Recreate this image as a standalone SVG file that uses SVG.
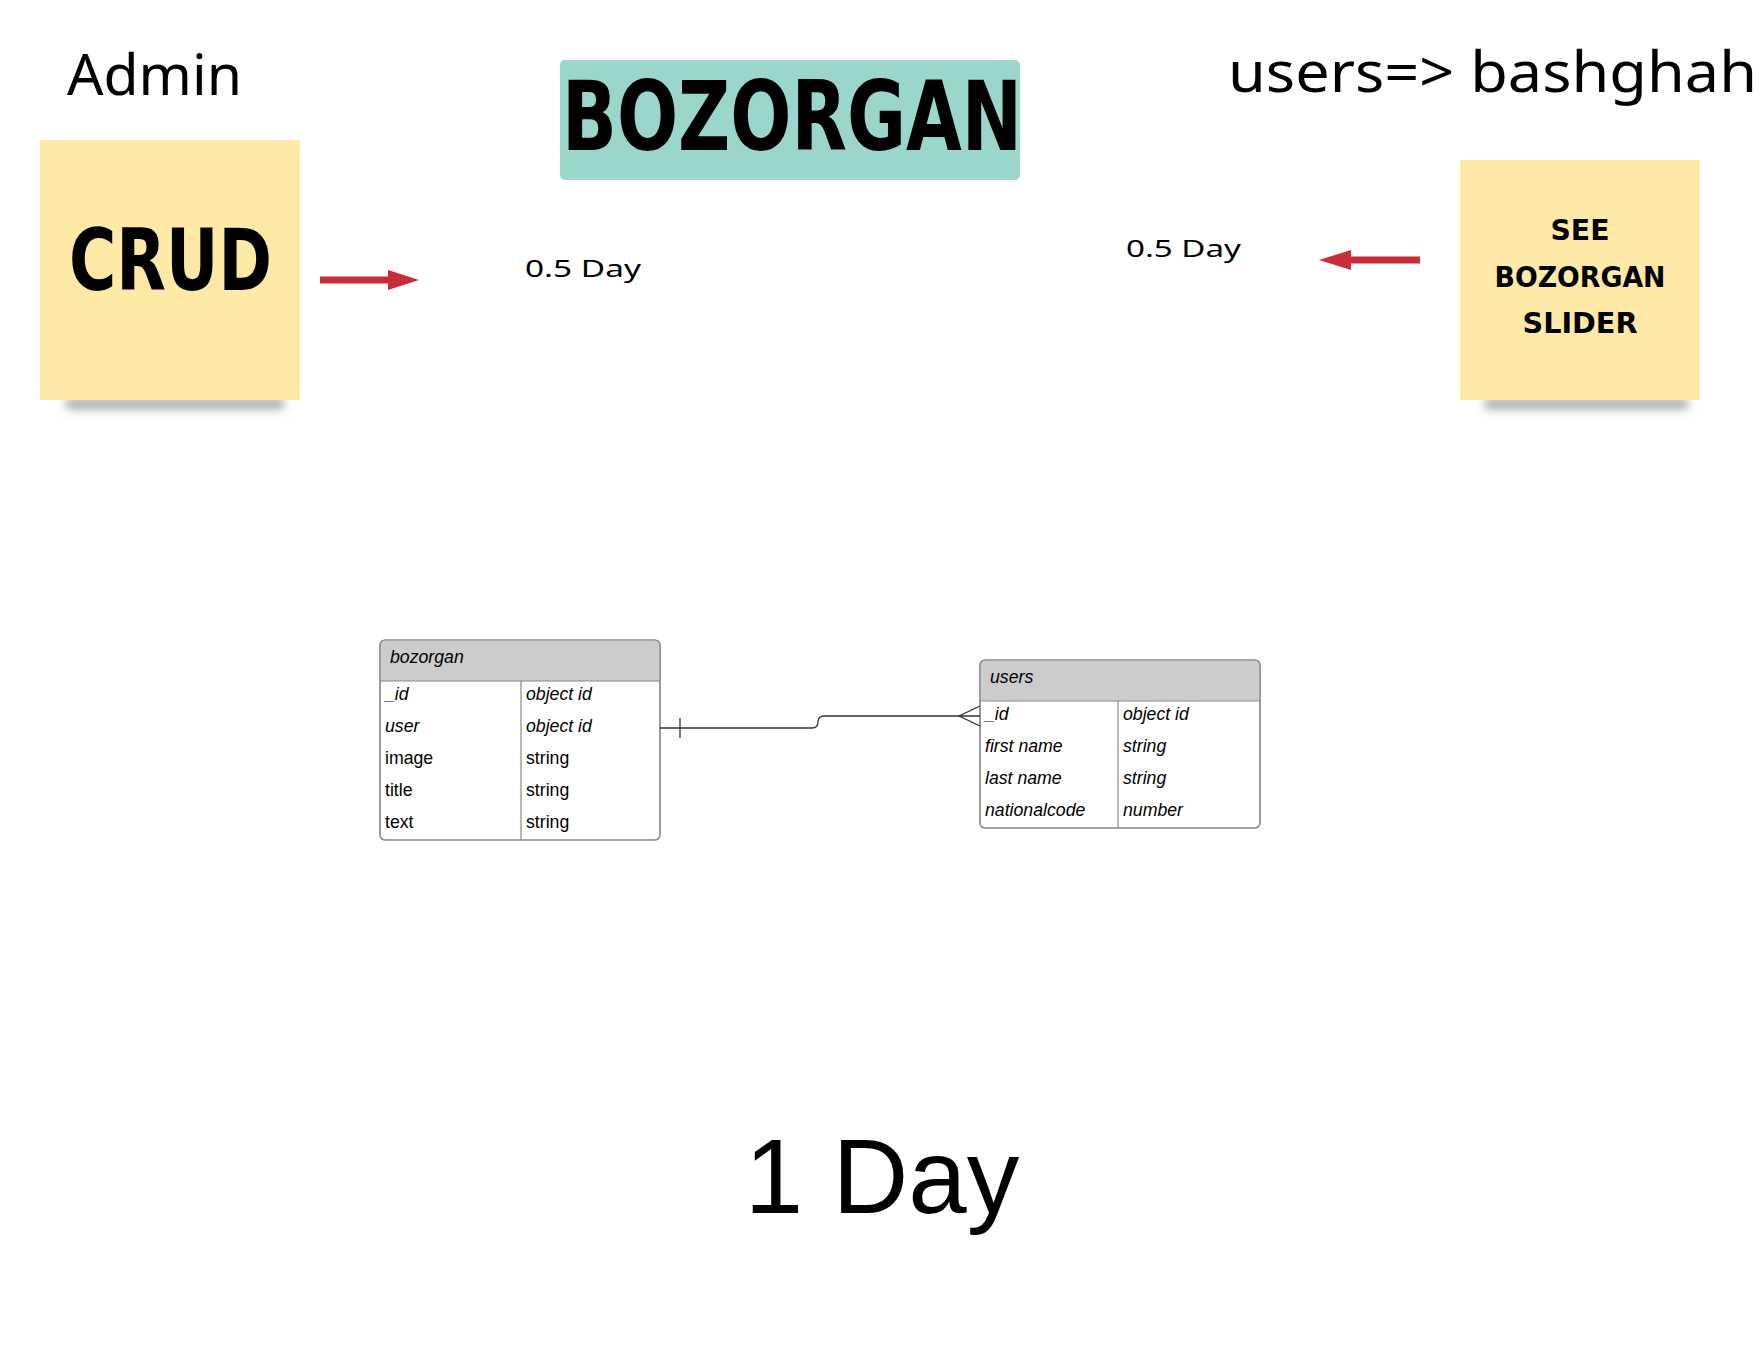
<svg xmlns="http://www.w3.org/2000/svg" width="1760" height="1360" viewBox="0 0 1760 1360">
<defs>
<filter id="shadow" x="-20%" y="-300%" width="140%" height="700%"><feGaussianBlur stdDeviation="5"/></filter>
<style>
.sticky{fill:#ffe9a6}
.shadow{fill:#8f8f8f;opacity:0.8;filter:url(#shadow)}
.title{font-family:"Noto Sans",sans-serif;font-size:56px;fill:#000}
.day{font-family:"Noto Sans",sans-serif;font-size:24px;fill:#000}
.hand{font-family:"DejaVu Sans",sans-serif;font-weight:bold;fill:#000}
.tbl{fill:#fff;stroke:#888;stroke-width:1.2}
.hdr{fill:#cccccc}
.sep{stroke:#888;stroke-width:1.2;fill:none}
.cell{font-family:"Liberation Sans",Arial,sans-serif;font-size:17.7px;fill:#000}
.it{font-style:italic}
.red{stroke:#c92d39;stroke-width:7;fill:none}
.redhead{fill:#c92d39}
.conn{stroke:#333;stroke-width:1.3;fill:none}
</style>
</defs>
<rect width="1760" height="1360" fill="#fff"/>

<g id="admin-label"><text class="title" x="67" y="95" textLength="175" lengthAdjust="spacingAndGlyphs">Admin</text></g>

<g id="title-bozorgan">
<rect x="560" y="60" width="460" height="120" rx="5" fill="#9bd6cc"/>
<text class="hand" x="562" y="150" font-size="96" textLength="460" lengthAdjust="spacingAndGlyphs">BOZORGAN</text>
</g>

<g id="users-label"><text class="title" x="1228" y="92" textLength="529" lengthAdjust="spacingAndGlyphs">users=&gt; bashghah</text></g>

<g id="sticky-crud">
<rect class="shadow" x="65" y="399" width="220" height="10" rx="5"/>
<rect class="sticky" x="40" y="140" width="260" height="260"/>
<text class="hand" x="69" y="290" font-size="86" textLength="203" lengthAdjust="spacingAndGlyphs">CRUD</text>
</g>

<g id="sticky-see">
<rect class="shadow" x="1484" y="399" width="205" height="10" rx="5"/>
<rect class="sticky" x="1460" y="160" width="240" height="240"/>
<text class="hand" x="1580" y="240" font-size="29" text-anchor="middle" textLength="59" lengthAdjust="spacingAndGlyphs">SEE</text>
<text class="hand" x="1580" y="287" font-size="29" text-anchor="middle" textLength="171" lengthAdjust="spacingAndGlyphs">BOZORGAN</text>
<text class="hand" x="1580" y="333" font-size="29" text-anchor="middle" textLength="115" lengthAdjust="spacingAndGlyphs">SLIDER</text>
</g>

<g id="day-left"><text class="day" x="525" y="277" textLength="116" lengthAdjust="spacingAndGlyphs">0.5 Day</text></g>
<g id="day-right"><text class="day" x="1126" y="257" textLength="115" lengthAdjust="spacingAndGlyphs">0.5 Day</text></g>

<g id="table-bozorgan">
<rect class="tbl" x="380" y="640" width="280" height="200" rx="5"/>
<path class="hdr" d="M385 640.6 H655 A4.4 4.4 0 0 1 659.4 645 V681 H380.6 V645 A4.4 4.4 0 0 1 385 640.6 Z"/>
<rect x="380" y="640" width="280" height="200" rx="5" fill="none" stroke="#888" stroke-width="1.2"/>
<line class="sep" x1="380" y1="681" x2="660" y2="681"/>
<line class="sep" x1="521" y1="681" x2="521" y2="840"/>
<text class="cell it" x="390" y="663">bozorgan</text>
<text class="cell it" x="385" y="700">_id</text><text class="cell it" x="526" y="700">object id</text>
<text class="cell it" x="385" y="732">user</text><text class="cell it" x="526" y="732">object id</text>
<text class="cell" x="385" y="764">image</text><text class="cell" x="526" y="764">string</text>
<text class="cell" x="385" y="796">title</text><text class="cell" x="526" y="796">string</text>
<text class="cell" x="385" y="828">text</text><text class="cell" x="526" y="828">string</text>
</g>

<g id="table-users">
<rect class="tbl" x="980" y="660" width="280" height="168" rx="5"/>
<path class="hdr" d="M985 660.6 H1255 A4.4 4.4 0 0 1 1259.4 665 V701 H980.6 V665 A4.4 4.4 0 0 1 985 660.6 Z"/>
<rect x="980" y="660" width="280" height="168" rx="5" fill="none" stroke="#888" stroke-width="1.2"/>
<line class="sep" x1="980" y1="701" x2="1260" y2="701"/>
<line class="sep" x1="1118" y1="701" x2="1118" y2="828"/>
<text class="cell it" x="990" y="683">users</text>
<text class="cell it" x="985" y="720">_id</text><text class="cell it" x="1123" y="720">object id</text>
<text class="cell it" x="985" y="752">first name</text><text class="cell it" x="1123" y="752">string</text>
<text class="cell it" x="985" y="784">last name</text><text class="cell it" x="1123" y="784">string</text>
<text class="cell it" x="985" y="816">nationalcode</text><text class="cell it" x="1123" y="816">number</text>
</g>

<g id="one-day"><text x="882" y="1213" text-anchor="middle" font-family="Liberation Sans, Arial, sans-serif" font-size="105" fill="#000">1 Day</text></g>

<g id="connectors">
<line class="red" x1="320" y1="280" x2="392" y2="280"/>
<polygon class="redhead" points="388,270 419,280 388,290"/>
<line class="red" x1="1347" y1="260" x2="1420" y2="260"/>
<polygon class="redhead" points="1351,250 1319,260 1351,270"/>
<path class="conn" d="M660 728 H812 Q818 728 818 722 Q818 716 824 716 H980"/>
<line class="conn" x1="680" y1="718" x2="680" y2="738"/>
<path class="conn" d="M980 706 L959 716 L980 726"/>
</g>
</svg>
